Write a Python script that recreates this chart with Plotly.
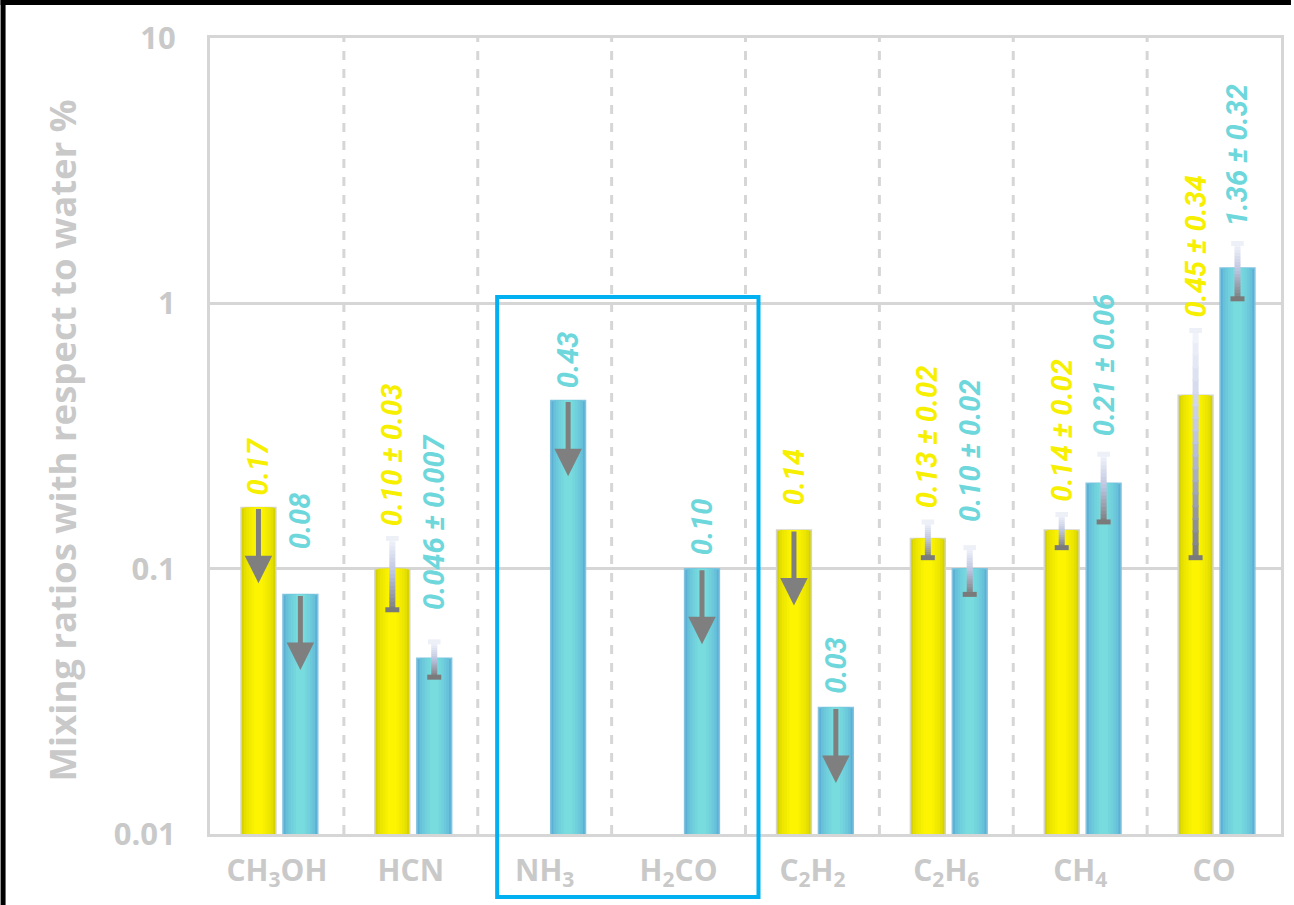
import math
import plotly.graph_objects as go

# ---- data -------------------------------------------------------------
molecules = ["CH<sub>3</sub>OH", "HCN", "NH<sub>3</sub>", "H<sub>2</sub>CO",
             "C<sub>2</sub>H<sub>2</sub>", "C<sub>2</sub>H<sub>6</sub>",
             "CH<sub>4</sub>", "CO"]

yellow_vals = [0.17, 0.10, None, None, 0.14, 0.13, 0.14, 0.45]
yellow_err = [None, 0.03, None, None, None, 0.02, 0.02, 0.34]
yellow_upper_limit = [True, False, False, False, True, False, False, False]
yellow_decimals = [2, 2, 2, 2, 2, 2, 2, 2]

cyan_vals = [0.08, 0.046, 0.43, 0.10, 0.03, 0.10, 0.21, 1.36]
cyan_err = [None, 0.007, None, None, None, 0.02, 0.06, 0.32]
cyan_upper_limit = [True, False, True, True, True, False, False, False]
cyan_decimals = [2, 3, 2, 2, 2, 2, 2, 2]

y_tickvals = [0.01, 0.1, 1, 10]
y_ticktext = ["0.01", "0.1", "1", "10"]
y_title = "Mixing ratios with respect to water %"

# ---- styling ----------------------------------------------------------
W, H = 1294, 905
ML, MR, MT, MB = 210, 10, 38, 71
PW, PH = W - ML - MR, H - MT - MB

GREY_TEXT = "#C9C9C9"
GRID = "#D6D6D6"
BAR_W = 0.26


def mix(a, b, u):
    return "rgb(%d,%d,%d)" % tuple(round(a[i] + (b[i] - a[i]) * u) for i in range(3))


N_LAYERS = 6
series = [
    dict(vals=yellow_vals, err=yellow_err, ul=yellow_upper_limit,
         dec=yellow_decimals, centre=-0.138, text_color="#F7EF00",
         edge=(214, 210, 0), core=(252, 244, 0), outline="#D4D4C6",
         label_shift=[11, 11, 0, 0, 24, 13, 12, 12]),
    dict(vals=cyan_vals, err=cyan_err, ul=cyan_upper_limit,
         dec=cyan_decimals, centre=0.175, text_color="#6ED7DC",
         edge=(92, 176, 214), core=(120, 220, 222), outline="#82C4E0",
         label_shift=[44, 31, 11, 13, 13, 25, 17, 16]),
]

fig = go.Figure()
xs = list(range(len(molecules)))

# bars, drawn as nested layers for a soft horizontal shading
for s in series:
    for k in range(N_LAYERS):
        u = k / (N_LAYERS - 1)
        w = BAR_W * (1.0 - 0.75 * u)
        col = mix(s["edge"], s["core"], u ** 0.6)
        fig.add_trace(go.Bar(
            x=xs, y=s["vals"], width=w, offset=s["centre"] - w / 2,
            marker=dict(color=col,
                        line=dict(color=s["outline"] if k == 0 else col,
                                  width=1.5 if k == 0 else 0)),
            hoverinfo="skip", showlegend=False))

# error bars: grey at the lower end fading to near-white at the upper end
N_STEPS = 18
c0, c1, c2 = (125, 125, 125), (186, 194, 222), (244, 246, 252)


def grad(t):
    if t < 0.5:
        return mix(c0, c1, t / 0.5)
    return mix(c1, c2, (t - 0.5) / 0.5)


seg = {k: ([], []) for k in range(N_STEPS)}
low_caps, high_caps = ([], []), ([], [])
for s in series:
    for i, (v, e) in enumerate(zip(s["vals"], s["err"])):
        if v is None or e is None:
            continue
        x = i + s["centre"]
        lo, hi = math.log10(v - e), math.log10(v + e)
        for k in range(N_STEPS):
            ya = lo + (hi - lo) * k / N_STEPS
            yb = min(lo + (hi - lo) * (k + 1.15) / N_STEPS, hi)
            seg[k][0].extend([x, x, None])
            seg[k][1].extend([10 ** ya, 10 ** yb, None])
        low_caps[0].append(x); low_caps[1].append(v - e)
        high_caps[0].append(x); high_caps[1].append(v + e)

for k in range(N_STEPS):
    fig.add_trace(go.Scatter(x=seg[k][0], y=seg[k][1], mode="lines",
                             line=dict(color=grad((k + 0.5) / N_STEPS), width=6),
                             hoverinfo="skip", showlegend=False))
fig.add_trace(go.Scatter(x=high_caps[0], y=high_caps[1], mode="markers",
                         marker=dict(symbol="line-ew", size=9,
                                     line=dict(color="#EEF0F8", width=5)),
                         hoverinfo="skip", showlegend=False))
fig.add_trace(go.Scatter(x=low_caps[0], y=low_caps[1], mode="markers",
                         marker=dict(symbol="line-ew", size=10,
                                     line=dict(color="#7A7A7A", width=5)),
                         hoverinfo="skip", showlegend=False))

annotations = []
# upper-limit arrows and value labels
for s in series:
    for i, v in enumerate(s["vals"]):
        if v is None:
            continue
        x = i + s["centre"]
        if s["ul"][i]:
            annotations.append(dict(
                x=x, y=math.log10(v) - 0.285, ax=x, ay=math.log10(v),
                xref="x", yref="y", axref="x", ayref="y", text="",
                showarrow=True, arrowhead=2, arrowsize=1.1, arrowwidth=5,
                arrowcolor="#7F7F7F", standoff=0, startstandoff=0))
        e = s["err"][i]
        d = s["dec"][i]
        label = f"{v:.{d}f}" + (f" ± {e:.{d}f}" if e is not None else "")
        top = v + e if e is not None else v
        annotations.append(dict(
            x=x, y=math.log10(top), xref="x", yref="y", text=f"<b><i>{label}</i></b>",
            showarrow=False, textangle=-90, xanchor="center", yanchor="bottom",
            yshift=s["label_shift"][i], borderpad=0,
            font=dict(family="Roboto", size=29, color=s["text_color"])))

# axis title
annotations.append(dict(
    x=(62 - ML) / PW, y=(MT + PH - 440) / PH, xref="paper", yref="paper", text=y_title,
    showarrow=False, textangle=-90, xanchor="center", yanchor="middle",
    font=dict(family="Open Sans", size=36.5, color=GREY_TEXT, weight="bold")))

shapes = []
# dashed separators between molecules
for b in range(len(molecules) - 1):
    shapes.append(dict(type="line", xref="x", yref="paper", x0=b + 0.5, x1=b + 0.5,
                       y0=0, y1=1, layer="below",
                       line=dict(color=GRID, width=3, dash="dash")))
# highlight box around NH3 and H2CO
shapes.append(dict(type="rect", xref="x", yref="paper", x0=1.645, x1=3.597,
                   y0=-(897 - (MT + PH)) / PH, y1=(MT + PH - 297) / PH,
                   line=dict(color="#00B0F0", width=4)))
# thin dark frame on the top and left edges of the page
shapes.append(dict(type="rect", xref="paper", yref="paper",
                   x0=-ML / PW, x1=(5 - ML) / PW, y0=-MB / PH, y1=(MT + PH) / PH,
                   line=dict(width=0), fillcolor="black"))
shapes.append(dict(type="rect", xref="paper", yref="paper",
                   x0=-ML / PW, x1=(W - ML) / PW, y0=(MT + PH - 5) / PH, y1=(MT + PH) / PH,
                   line=dict(width=0), fillcolor="black"))

fig.update_layout(
    width=W, height=H,
    margin=dict(l=ML, r=MR, t=MT, b=MB, pad=0),
    paper_bgcolor="white", plot_bgcolor="white",
    barmode="overlay", showlegend=False,
    annotations=annotations, shapes=shapes,
    font=dict(family="Open Sans", color=GREY_TEXT),
    xaxis=dict(range=[-0.5, len(molecules) - 0.5], tickvals=xs, ticktext=molecules,
               showgrid=False, zeroline=False, showline=True, mirror=True,
               linecolor=GRID, linewidth=3, ticks="", ticklabelstandoff=8,
               tickfont=dict(family="Open Sans", size=30, color=GREY_TEXT, weight="bold")),
    yaxis=dict(type="log", range=[-2, 1], tickvals=y_tickvals, ticktext=y_ticktext,
               showgrid=True, gridcolor=GRID, gridwidth=3, zeroline=False,
               showline=True, mirror=True, linecolor=GRID, linewidth=3, ticks="",
               ticklabelstandoff=25,
               tickfont=dict(family="Open Sans", size=31, color=GREY_TEXT, weight="bold")),
)

fig.write_html("out.html")
